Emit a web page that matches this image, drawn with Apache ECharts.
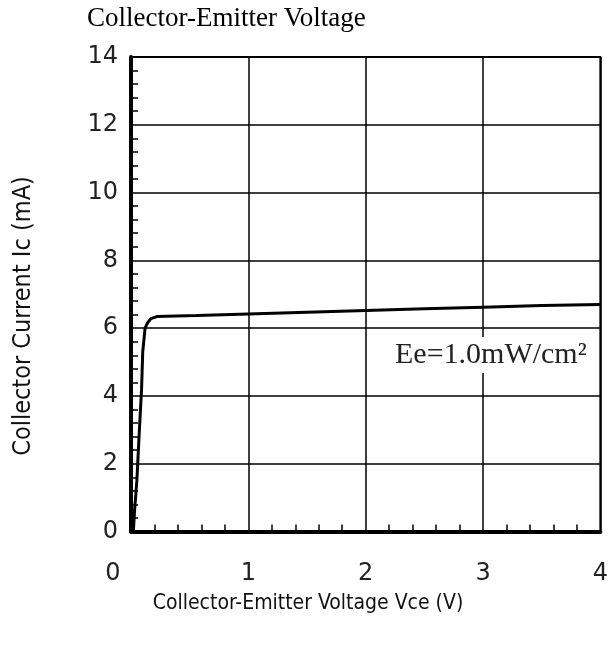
<!DOCTYPE html>
<html>
<head>
<meta charset="utf-8">
<script src="https://cdn.jsdelivr.net/npm/echarts@6/dist/echarts.min.js"></script>
<style>html,body{margin:0;padding:0;background:#fff}#c{width:611px;height:647px}</style>
</head>
<body>
<div id="c"></div>
<script>
// Data
const vce = [0.02, 0.03, 0.05, 0.07, 0.09, 0.10, 0.12, 0.14, 0.17, 0.22, 0.56, 1.0, 1.5, 2.0, 2.5, 3.0, 3.5, 4.0];
const ic  = [0.0, 0.6, 1.5, 2.9, 4.2, 5.3, 6.0, 6.15, 6.28, 6.34, 6.37, 6.42, 6.47, 6.52, 6.57, 6.62, 6.67, 6.70];
const xTicks = [0, 1, 2, 3, 4];
const yTicks = [0, 2, 4, 6, 8, 10, 12, 14];
const titleText = 'Collector-Emitter Voltage';
const xTitle = 'Collector-Emitter Voltage Vce (V)';
const yTitle = 'Collector Current Ic (mA)';
const noteText = 'Ee=1.0mW/cm²';

const chart = echarts.init(document.getElementById('c'), null, {renderer: 'canvas'});
const gl = {left: 131, right: 9, top: 57, bottom: 115.5};
chart.setOption({
  backgroundColor: '#fff',
  animation: false,
  grid: {left: gl.left, right: gl.right, top: gl.top, bottom: gl.bottom, show: true, borderColor: '#000', borderWidth: 2, containLabel: false},
  xAxis: {
    type: 'value', min: xTicks[0], max: xTicks[xTicks.length - 1], interval: 1,
    axisLine: {show: true, onZero: false, lineStyle: {color: '#000', width: 4}},
    axisTick: {show: false, inside: true},
    minorTick: {show: true, splitNumber: 5, length: 7, lineStyle: {color: '#000', width: 1.5}},
    splitLine: {show: true, lineStyle: {color: '#000', width: 1.5}},
    axisLabel: {
      margin: 30, fontSize: 24, color: '#222', fontFamily: 'DejaVu Sans',
      formatter: v => v === 0 ? '{z|0}' : String(v),
      rich: {z: {fontSize: 24, color: '#222', fontFamily: 'DejaVu Sans', padding: [0, 36, 0, 0]}}
    }
  },
  yAxis: {
    type: 'value', min: yTicks[0], max: yTicks[yTicks.length - 1], interval: 2,
    axisLine: {show: true, onZero: false, lineStyle: {color: '#000', width: 4}},
    axisTick: {show: false, inside: true},
    minorTick: {show: true, splitNumber: 5, length: 7, lineStyle: {color: '#000', width: 1.5}},
    splitLine: {show: true, lineStyle: {color: '#000', width: 1.5}},
    axisLabel: {margin: 13, fontSize: 24, color: '#222', fontFamily: 'DejaVu Sans'}
  },
  series: [{
    type: 'line',
    data: vce.map((v, i) => [v, ic[i]]),
    showSymbol: false,
    smooth: false,
    lineStyle: {color: '#000', width: 3},
    z: 5
  }],
  graphic: [
    {type: 'text', left: 87, top: 5, style: {text: titleText, font: '27px "Liberation Serif", serif', fill: '#000'}},
    {type: 'text', x: 308, y: 604, style: {text: xTitle, font: '21px "DejaVu Sans Condensed", "Liberation Sans Narrow", sans-serif', fill: '#111', align: 'center', verticalAlign: 'middle'}},
    {type: 'text', x: 23, y: 316, rotation: Math.PI / 2, style: {text: yTitle, font: '25px "DejaVu Sans Condensed", "Liberation Sans Narrow", sans-serif', fill: '#111', align: 'center', verticalAlign: 'middle'}},
    {type: 'text', left: 391, top: 337, z: 10, style: {text: noteText, font: '30px "Liberation Serif", serif', fill: '#222', backgroundColor: '#fff', padding: [3, 4, 3, 4]}}
  ]
});
</script>
</body>
</html>
